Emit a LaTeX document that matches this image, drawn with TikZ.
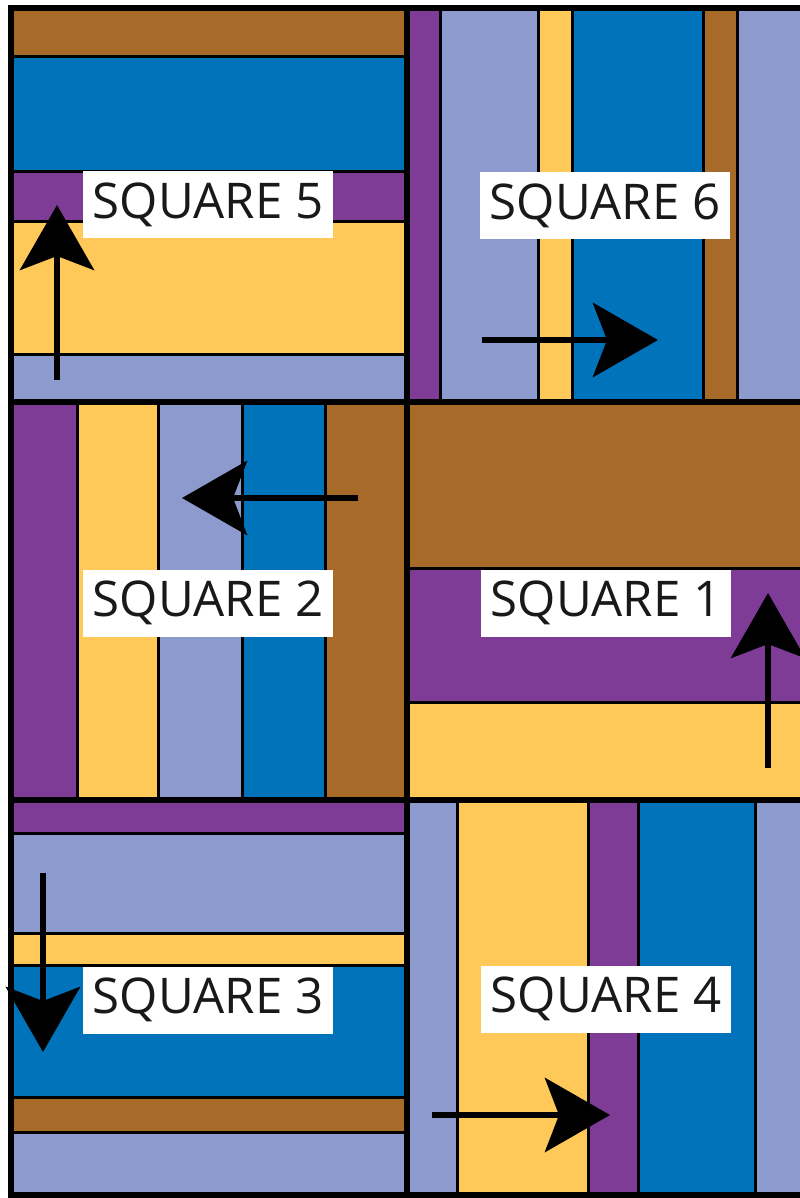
\documentclass[tikz,border=0pt]{standalone}
\usepackage{fontspec}
\setmainfont{Open Sans}
\usetikzlibrary{arrows.meta}
\definecolor{quiltbrown}{RGB}{168,106,40}
\definecolor{quiltblue}{RGB}{0,115,186}
\definecolor{quiltpurple}{RGB}{127,60,150}
\definecolor{quiltyellow}{RGB}{255,201,90}
\definecolor{quiltlav}{RGB}{140,154,206}

\begin{document}
\begin{tikzpicture}[
  x=0.1mm, y=-0.1mm,
  strip/.style={draw=black, line width=0.3mm},
  seam/.style={draw=black, line width=0.6mm},
  sqlabel/.style={
    fill=white,
    inner sep=0pt,
    minimum width=25mm,
    minimum height=6.7mm,
    text=black!90,
    font=\fontsize{14}{14}\selectfont
  },
  arr/.style={-{Stealth[length=6.5mm, width=7.4mm, inset=1.4mm]}, line width=0.65mm}
]
\fill[white] (0,0) rectangle (800,1198);
\useasboundingbox (0,0) rectangle (800,1198);

% Square 5
\path[strip, fill=quiltbrown]  (11,8)   rectangle (407,57);
\path[strip, fill=quiltblue]   (11,57)  rectangle (407,172);
\path[strip, fill=quiltpurple] (11,172) rectangle (407,222);
\path[strip, fill=quiltyellow] (11,222) rectangle (407,355);
\path[strip, fill=quiltlav]    (11,355) rectangle (407,402);

% Square 6
\path[strip, fill=quiltpurple] (407,8) rectangle (440,402);
\path[strip, fill=quiltlav]    (440,8) rectangle (538,402);
\path[strip, fill=quiltyellow] (538,8) rectangle (572,402);
\path[strip, fill=quiltblue]   (572,8) rectangle (703,402);
\path[strip, fill=quiltbrown]  (703,8) rectangle (737,402);
\path[strip, fill=quiltlav]    (737,8) rectangle (803,402);

% Square 2
\path[strip, fill=quiltpurple] (11,402)  rectangle (77,800);
\path[strip, fill=quiltyellow] (77,402)  rectangle (158,800);
\path[strip, fill=quiltlav]    (158,402) rectangle (242,800);
\path[strip, fill=quiltblue]   (242,402) rectangle (325,800);
\path[strip, fill=quiltbrown]  (325,402) rectangle (407,800);

% Square 1
\path[strip, fill=quiltbrown]  (407,402) rectangle (803,568);
\path[strip, fill=quiltpurple] (407,568) rectangle (803,702);
\path[strip, fill=quiltyellow] (407,702) rectangle (803,800);

% Square 3
\path[strip, fill=quiltpurple] (11,800)  rectangle (407,833);
\path[strip, fill=quiltlav]    (11,833)  rectangle (407,933);
\path[strip, fill=quiltyellow] (11,933)  rectangle (407,965);
\path[strip, fill=quiltblue]   (11,965)  rectangle (407,1097);
\path[strip, fill=quiltbrown]  (11,1097) rectangle (407,1132);
\path[strip, fill=quiltlav]    (11,1132) rectangle (407,1195);

% Square 4
\path[strip, fill=quiltlav]    (407,800) rectangle (457,1195);
\path[strip, fill=quiltyellow] (457,800) rectangle (588,1195);
\path[strip, fill=quiltpurple] (588,800) rectangle (638,1195);
\path[strip, fill=quiltblue]   (638,800) rectangle (755,1195);
\path[strip, fill=quiltlav]    (755,800) rectangle (803,1195);

% Seams between the squares
\draw[seam] (11,8) rectangle (803,1195);
\draw[seam] (407,8) -- (407,1195);
\draw[seam] (11,402) -- (803,402);
\draw[seam] (11,800) -- (803,800);

% Labels
\node[sqlabel] (sq5) at (208,205)  {SQUARE 5};
\node[sqlabel] (sq6) at (605,206)  {SQUARE 6};
\node[sqlabel] (sq2) at (208,603)  {SQUARE 2};
\node[sqlabel] (sq1) at (606,603)  {SQUARE 1};
\node[sqlabel] (sq3) at (208,1000) {SQUARE 3};
\node[sqlabel] (sq4) at (606,999)  {SQUARE 4};

% Arrow ends
\coordinate (a5s) at (57,380);   \coordinate (a5e) at (57,205);
\coordinate (a6s) at (482,340);  \coordinate (a6e) at (658,340);
\coordinate (a2s) at (358,498);  \coordinate (a2e) at (182,498);
\coordinate (a1s) at (768,768);  \coordinate (a1e) at (768,593);
\coordinate (a3s) at (43,873);   \coordinate (a3e) at (43,1052);
\coordinate (a4s) at (432,1115); \coordinate (a4e) at (610,1115);

% Arrows
\draw[arr] (a5s) -- (a5e);
\draw[arr] (a6s) -- (a6e);
\draw[arr] (a2s) -- (a2e);
\draw[arr] (a1s) -- (a1e);
\draw[arr] (a3s) -- (a3e);
\draw[arr] (a4s) -- (a4e);

\end{tikzpicture}
\end{document}
